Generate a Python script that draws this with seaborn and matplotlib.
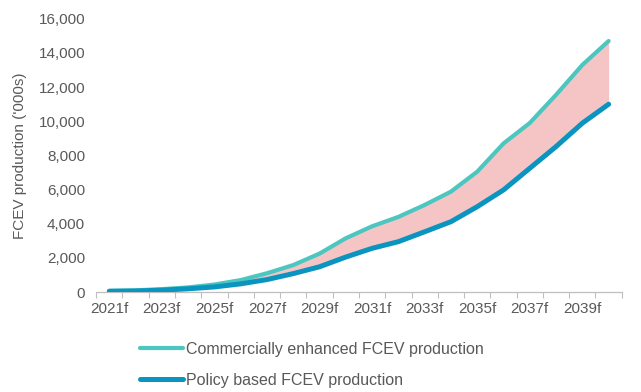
import matplotlib
matplotlib.use("Agg")
import matplotlib.pyplot as plt
from matplotlib.lines import Line2D
from matplotlib.ticker import FuncFormatter, FixedLocator
import numpy as np
import pandas as pd
import seaborn as sns

# Forecast years and FCEV production ('000s) under two scenarios
years = [f"{y}f" for y in range(2021, 2041)]
commercial = [60, 100, 170, 270, 440, 700, 1100, 1580, 2250, 3150,
              3850, 4400, 5100, 5880, 7050, 8700, 9900, 11550, 13300, 14700]
policy = [50, 60, 110, 190, 300, 480, 730, 1080, 1480, 2050,
          2560, 2950, 3530, 4120, 5000, 5980, 7250, 8520, 9890, 11000]

series_names = ["Commercially enhanced FCEV production",
                "Policy based FCEV production"]
colors = {"Commercially enhanced FCEV production": "#4cc7c0",
          "Policy based FCEV production": "#0a94c0"}
widths = {"Commercially enhanced FCEV production": 3.0,
          "Policy based FCEV production": 3.6}

idx = np.arange(len(years))
df = pd.DataFrame({
    "idx": np.concatenate([idx, idx]),
    "value": commercial + policy,
    "series": [series_names[0]] * len(years) + [series_names[1]] * len(years),
})

sns.set_theme(style="white")
plt.rcParams["font.family"] = ["Liberation Sans", "DejaVu Sans"]

fig = plt.figure(figsize=(6.41, 3.92), dpi=100)
ax = fig.add_axes([0.150, 0.255, 0.820, 0.697])

# Shaded band between the two scenarios
ax.fill_between(idx, policy, commercial, color="#f5c5c5", linewidth=0, zorder=1)

for name in series_names:
    sns.lineplot(data=df[df["series"] == name], x="idx", y="value", ax=ax,
                 color=colors[name], linewidth=widths[name],
                 solid_capstyle="round", zorder=3, legend=False)

ax.set_xlim(-0.5, len(years) - 0.5)
ax.set_ylim(0, 16000)
ax.set_yticks(np.arange(0, 16001, 2000))
ax.yaxis.set_major_formatter(FuncFormatter(lambda v, p: f"{int(v):,}"))

# Category labels on every other year, tick marks on category boundaries
ax.set_xticks(idx[::2])
ax.set_xticklabels(years[::2])
ax.xaxis.set_minor_locator(FixedLocator(np.arange(-0.5, len(years), 1.0)))
ax.tick_params(axis="x", which="major", length=0, pad=7,
               labelsize=11, labelcolor="#595959")
ax.tick_params(axis="x", which="minor", length=4, width=0.8,
               color="#bfbfbf", direction="out", bottom=True)
ax.tick_params(axis="y", length=0, pad=8, labelsize=11, labelcolor="#595959")

for side in ["top", "right", "left"]:
    ax.spines[side].set_visible(False)
ax.spines["bottom"].set_color("#bfbfbf")
ax.spines["bottom"].set_linewidth(0.9)

ax.set_xlabel("")
ax.set_ylabel("FCEV production ('000s)", fontsize=11, color="#595959", labelpad=8)

handles = [Line2D([0], [0], color=colors[n], linewidth=widths[n],
                  solid_capstyle="round") for n in series_names]
fig.legend(handles, series_names, loc="upper left",
           bbox_to_anchor=(0.218, 0.128), bbox_transform=fig.transFigure,
           frameon=False, fontsize=11.5, labelcolor="#595959",
           handlelength=2.7, handletextpad=0.2, labelspacing=1.0,
           borderpad=0, borderaxespad=0)

fig.savefig("out.png", dpi=100)
